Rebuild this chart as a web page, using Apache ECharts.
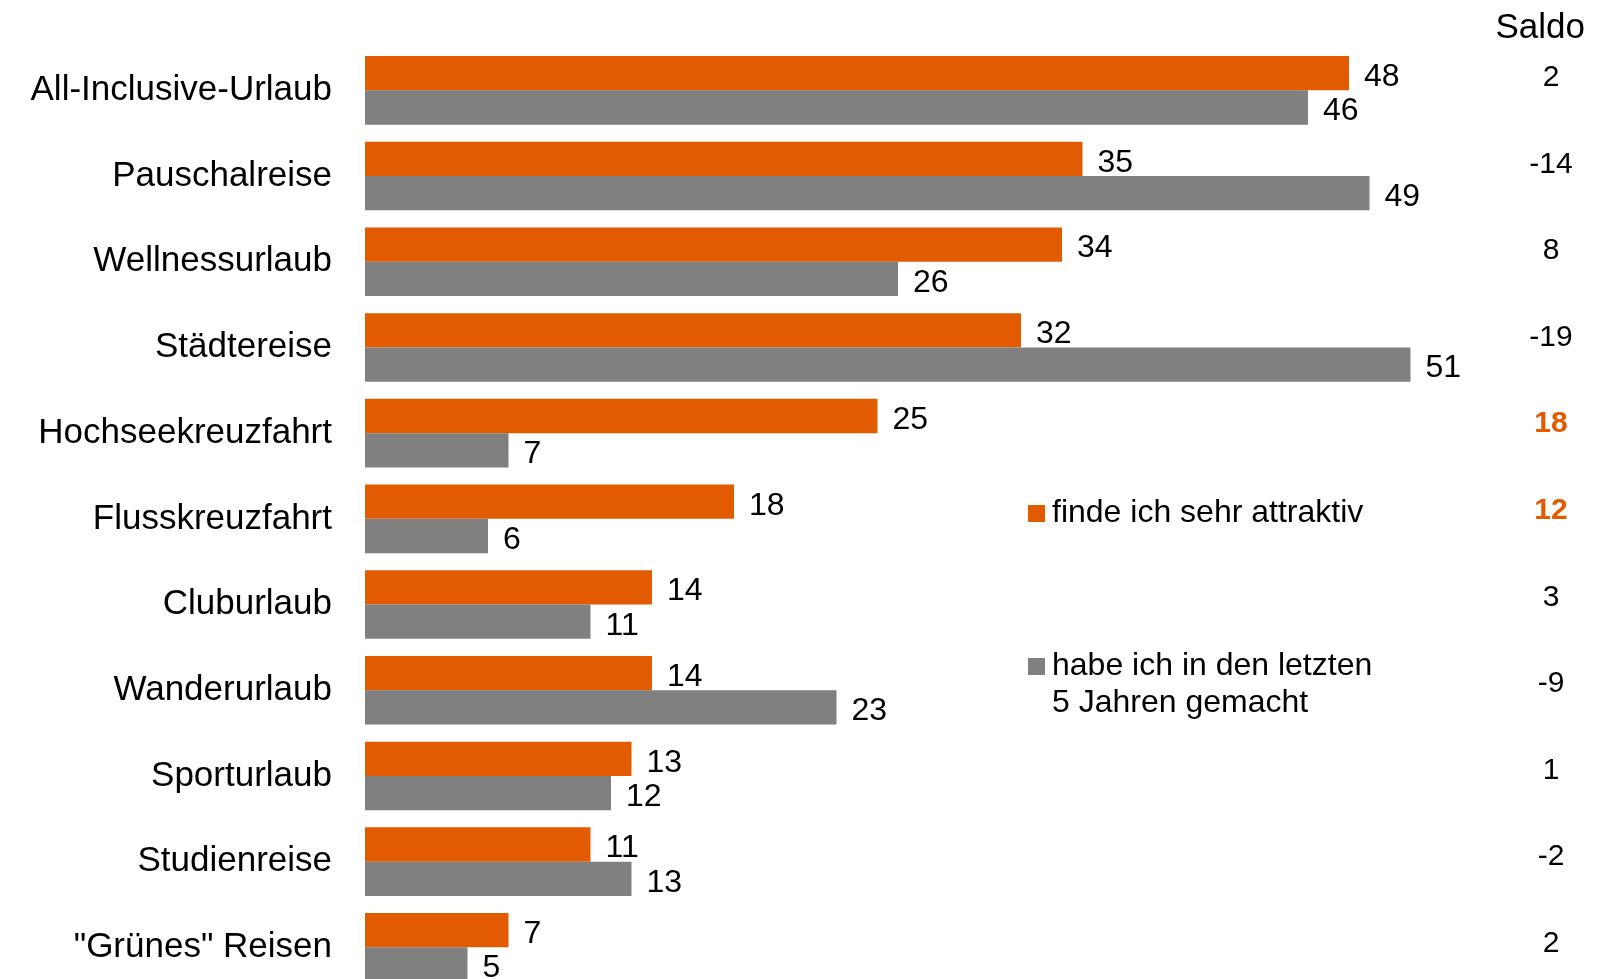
<!DOCTYPE html>
<html>
<head>
<meta charset="utf-8">
<script src="https://cdn.jsdelivr.net/npm/echarts@6/dist/echarts.min.js"></script>
<style>
  html, body { margin: 0; padding: 0; background: #fff; overflow: hidden; }
  #chart { width: 1598px; height: 1000px; }
</style>
</head>
<body>
<div id="chart"></div>
<script>
const categories = [
  'All-Inclusive-Urlaub',
  'Pauschalreise',
  'Wellnessurlaub',
  'Städtereise',
  'Hochseekreuzfahrt',
  'Flusskreuzfahrt',
  'Cluburlaub',
  'Wanderurlaub',
  'Sporturlaub',
  'Studienreise',
  '"Grünes" Reisen'
];
const attraktiv = [48, 35, 34, 32, 25, 18, 14, 14, 13, 11, 7];
const gemacht = [46, 49, 26, 51, 7, 6, 11, 23, 12, 13, 5];
// Saldo = attraktiv - gemacht
const saldo = attraktiv.map((v, i) => v - gemacht[i]);
const highlighted = ['Hochseekreuzfahrt', 'Flusskreuzfahrt'];

const FONT = "'Liberation Sans', Arial, sans-serif";
const ORANGE = '#E35B00';
const GREY = '#808080';

const chart = echarts.init(document.getElementById('chart'));

const valueLabel = {
  show: true,
  position: 'right',
  distance: 15,
  offset: [0, 4],
  color: '#000',
  fontSize: 32,
  fontFamily: FONT
};

const legendText = { fontSize: 32, lineHeight: 37, color: '#000', fontFamily: FONT, padding: [0, 0, 0, 2] };

const option = {
  animation: false,
  textStyle: { fontFamily: FONT },
  title: {
    text: 'Saldo',
    right: 8,
    top: 6,
    textStyle: { fontSize: 35, fontWeight: 'normal', color: '#000', fontFamily: FONT }
  },
  legend: [
    {
      data: ['finde ich sehr attraktiv'],
      left: 1028,
      top: 495,
      padding: 0,
      itemWidth: 17,
      itemHeight: 17,
      icon: 'rect',
      selectedMode: false,
      textStyle: legendText
    },
    {
      data: ['habe ich in den letzten\n5 Jahren gemacht'],
      left: 1028,
      top: 611,
      padding: 0,
      itemWidth: 17,
      itemHeight: 17,
      icon: 'rect',
      selectedMode: false,
      // leading empty line keeps the icon level with the first text line
      formatter: (name) => '\n' + name,
      textStyle: legendText
    }
  ],
  grid: [
    { left: 365, top: 47.5, width: 1230, height: 942.7 },
    { left: 1500, top: 34.5, width: 98, height: 952.6 }
  ],
  xAxis: [
    { type: 'value', min: 0, max: 60, show: false, gridIndex: 0 },
    { type: 'value', min: 0, max: 1, show: false, gridIndex: 1 }
  ],
  yAxis: [
    {
      type: 'category',
      gridIndex: 0,
      data: categories,
      inverse: true,
      axisLine: { show: false },
      axisTick: { show: false },
      axisLabel: {
        fontSize: 35,
        color: '#000',
        margin: 33,
        padding: [4, 0, 0, 0],
        fontFamily: FONT
      }
    },
    {
      type: 'category',
      gridIndex: 1,
      position: 'left',
      data: categories,
      inverse: true,
      axisLine: { show: false },
      axisTick: { show: false },
      axisLabel: {
        inside: true,
        align: 'center',
        margin: 51,
        fontSize: 30,
        color: '#000',
        fontFamily: FONT,
        formatter: (name) => {
          const i = categories.indexOf(name);
          return highlighted.includes(name) ? '{hi|' + saldo[i] + '}' : String(saldo[i]);
        },
        rich: {
          hi: { color: ORANGE, fontWeight: 'bold', fontSize: 30, fontFamily: FONT }
        }
      }
    }
  ],
  series: [
    {
      name: 'finde ich sehr attraktiv',
      type: 'bar',
      data: attraktiv,
      barGap: '0%',
      barCategoryGap: '20%',
      itemStyle: { color: ORANGE },
      label: valueLabel
    },
    {
      name: 'habe ich in den letzten\n5 Jahren gemacht',
      type: 'bar',
      data: gemacht,
      itemStyle: { color: GREY },
      label: valueLabel
    }
  ]
};

chart.setOption(option);
</script>
</body>
</html>
